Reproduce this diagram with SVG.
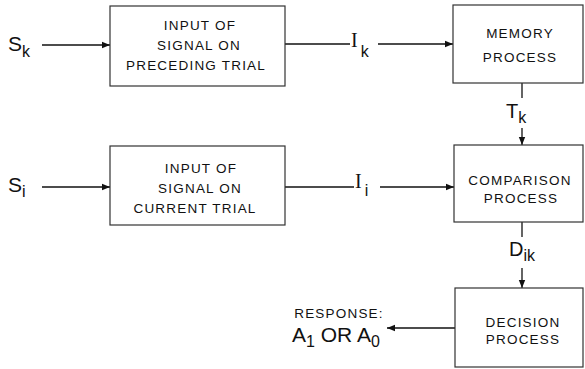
<svg xmlns="http://www.w3.org/2000/svg" width="585" height="369" viewBox="0 0 585 369">
<defs>
<marker id="ah" viewBox="0 0 10 10" refX="10" refY="5" markerWidth="8" markerHeight="8" markerUnits="userSpaceOnUse" orient="auto">
<path d="M0,1 L10,5 L0,9 Z" fill="#111"/>
</marker>
<style>
.box{fill:#fff;stroke:#333;stroke-width:1.2}
.bt{font-family:"Liberation Sans",Arial,sans-serif;font-size:13.5px;letter-spacing:1.2px;fill:#111;text-anchor:middle}
.lbl{font-family:"Liberation Sans",Arial,sans-serif;font-size:20px;fill:#111}
.sub{font-size:16px}
.ser{font-family:"Liberation Serif","Times New Roman",serif}
.ln{fill:none;stroke:#111;stroke-width:1.3}
</style>
</defs>
<rect width="585" height="369" fill="#fff"/>

<g id="connectors">
<line class="ln" x1="42" y1="45" x2="110" y2="45" marker-end="url(#ah)"/>
<line class="ln" x1="285" y1="44" x2="350" y2="44"/>
<line class="ln" x1="378" y1="44" x2="453" y2="44" marker-end="url(#ah)"/>
<line class="ln" x1="522" y1="83" x2="522" y2="98"/>
<line class="ln" x1="522" y1="128" x2="522" y2="145" marker-end="url(#ah)"/>
<line class="ln" x1="42" y1="187" x2="110" y2="187" marker-end="url(#ah)"/>
<line class="ln" x1="285" y1="187" x2="354" y2="187"/>
<line class="ln" x1="380" y1="187" x2="454" y2="187" marker-end="url(#ah)"/>
<line class="ln" x1="522" y1="222" x2="522" y2="237"/>
<line class="ln" x1="522" y1="268" x2="522" y2="288" marker-end="url(#ah)"/>
<line class="ln" x1="455" y1="328" x2="387" y2="328" marker-end="url(#ah)"/>
</g>

<g id="labels">
<text class="lbl" x="8" y="51" style="font-size:21px">S<tspan class="sub" dy="6">k</tspan></text>
<text class="lbl" x="8" y="192" style="font-size:21px">S<tspan class="sub" dy="5">i</tspan></text>
<text class="lbl" x="351" y="47"><tspan class="ser">I</tspan><tspan class="sub" dx="3" dy="10">k</tspan></text>
<text class="lbl" x="355" y="188"><tspan class="ser">I</tspan><tspan class="sub" dx="3" dy="8">i</tspan></text>
<text class="lbl" x="506" y="118">T<tspan class="sub" dy="5">k</tspan></text>
<text class="lbl" x="509" y="256">D<tspan class="sub" dy="5">ik</tspan></text>
<text class="bt" x="339" y="318">RESPONSE:</text>
<text class="lbl" x="292" y="342" style="font-size:21px">A<tspan class="sub" dy="5">1</tspan><tspan dy="-5"> OR A</tspan><tspan class="sub" dy="5">0</tspan></text>
</g>

<g id="input-preceding">
<rect class="box" x="110" y="6" width="175" height="80"/>
<text class="bt" x="200" y="30">INPUT OF</text>
<text class="bt" x="199" y="50">SIGNAL ON</text>
<text class="bt" x="196" y="70">PRECEDING TRIAL</text>
</g>

<g id="memory">
<rect class="box" x="453" y="5" width="130" height="78"/>
<text class="bt" x="520" y="38">MEMORY</text>
<text class="bt" x="520" y="62">PROCESS</text>
</g>

<g id="input-current">
<rect class="box" x="110" y="146" width="175" height="79"/>
<text class="bt" x="201" y="173">INPUT OF</text>
<text class="bt" x="200" y="193">SIGNAL ON</text>
<text class="bt" x="195" y="213">CURRENT TRIAL</text>
</g>

<g id="comparison">
<rect class="box" x="454" y="145" width="129" height="77"/>
<text class="bt" x="520" y="185">COMPARISON</text>
<text class="bt" x="521" y="203">PROCESS</text>
</g>

<g id="decision">
<rect class="box" x="455" y="288" width="128" height="79"/>
<text class="bt" x="523" y="327">DECISION</text>
<text class="bt" x="523" y="344">PROCESS</text>
</g>
</svg>
